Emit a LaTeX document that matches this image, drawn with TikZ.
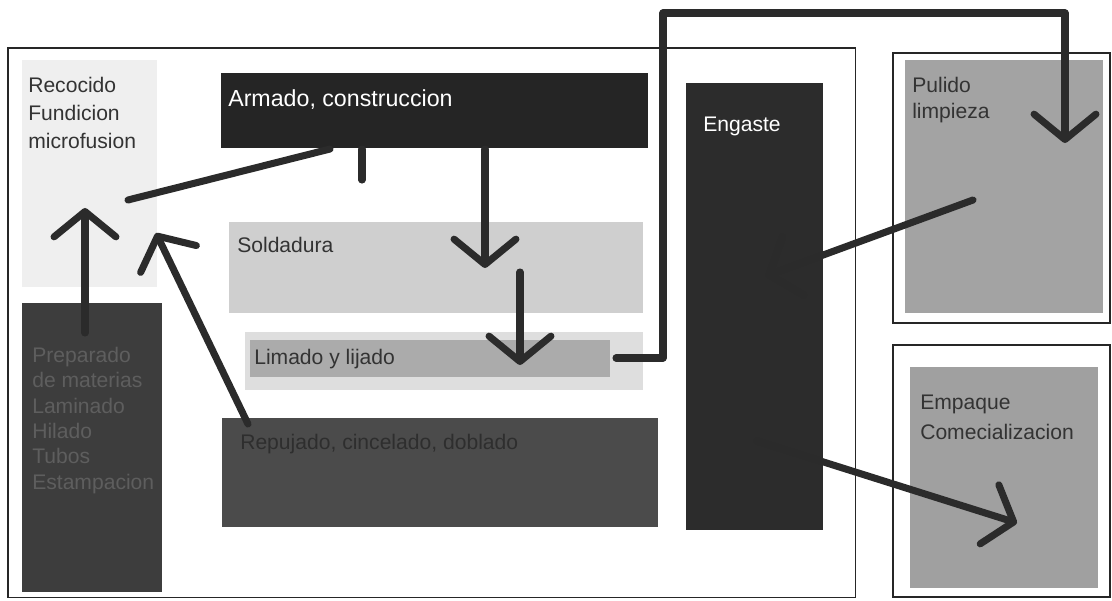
\documentclass[tikz,border=0pt]{standalone}
\usepackage{fontspec}
\setmainfont{Liberation Sans}
\usetikzlibrary{arrows.meta}

\definecolor{recfill}{HTML}{EFEFEF}
\definecolor{prepfill}{HTML}{3D3D3D}
\definecolor{prepink}{HTML}{5E5E5E}
\definecolor{armfill}{HTML}{252525}
\definecolor{soldfill}{HTML}{CFCFCF}
\definecolor{limback}{HTML}{DEDEDE}
\definecolor{limfill}{HTML}{ABABAB}
\definecolor{repfill}{HTML}{4B4B4B}
\definecolor{repink}{HTML}{2E2E2E}
\definecolor{engfill}{HTML}{2C2C2C}
\definecolor{pulfill}{HTML}{A3A3A3}
\definecolor{empfill}{HTML}{A0A0A0}
\definecolor{inkdark}{HTML}{333333}
\definecolor{flowink}{HTML}{2B2B2B}

\begin{document}
\begin{tikzpicture}[x=0.025cm,y=-0.025cm,
  frame/.style={draw=black!85,line width=0.9pt,inner sep=0pt,outer sep=0pt,anchor=north west},
  box/.style={inner sep=0pt,outer sep=0pt,anchor=north west},
  txt/.style={anchor=north west,inner sep=0pt,align=left,font=\fontsize{15pt}{19pt}\selectfont},
  flow/.style={draw=flowink,line width=5pt,line cap=round,line join=round,
    -{Straight Barb[length=18pt,width=44pt,round]}},
  plain/.style={draw=flowink,line width=5pt,line cap=round}]
\useasboundingbox (0,0) rectangle (1112,600);

% the frames
\node[frame,minimum width=21.175cm,minimum height=13.725cm] (main) at (8,48) {};
\node[frame,minimum width=5.425cm,minimum height=6.75cm] (pfr) at (893,53) {};
\node[frame,minimum width=5.425cm,minimum height=6.3cm] (efr) at (893,345) {};

% the process boxes
\node[box,fill=recfill,minimum width=3.375cm,minimum height=5.675cm,
  label={[txt,text=inkdark,font=\fontsize{15pt}{20pt}\selectfont,shift={(6,17)}]north west:{Recocido\\Fundicion\\microfusion}}] (recocido) at (22,60) {};
\node[box,fill=prepfill,minimum width=3.5cm,minimum height=7.225cm,
  label={[txt,text=prepink,font=\fontsize{15pt}{18pt}\selectfont,shift={(10,44)}]north west:{Preparado\\de materias\\Laminado\\Hilado\\Tubos\\Estampacion}}] (prep) at (22,303) {};
\node[box,fill=armfill,minimum width=10.675cm,minimum height=1.875cm,
  label={[txt,text=white,font=\fontsize{16.5pt}{19pt}\selectfont,shift={(7,16)}]north west:{Armado, construccion}}] (armado) at (221,73) {};
\node[box,fill=soldfill,minimum width=10.35cm,minimum height=2.275cm,
  label={[txt,text=inkdark,shift={(8,15)}]north west:{Soldadura}}] (sold) at (229,222) {};
\node[box,fill=limback,minimum width=9.95cm,minimum height=1.45cm] (limout) at (245,332) {};
\node[box,fill=limfill,minimum width=9cm,minimum height=0.925cm,
  label={[txt,text=inkdark,shift={(4,9)}]north west:{Limado y lijado}}] (lim) at (250,340) {};
\node[box,fill=repfill,minimum width=10.9cm,minimum height=2.725cm,
  label={[txt,text=repink,shift={(18,16)}]north west:{Repujado, cincelado, doblado}}] (repu) at (222,418) {};
\node[box,fill=engfill,minimum width=3.425cm,minimum height=11.175cm,
  label={[txt,text=white,shift={(17,34)}]north west:{Engaste}}] (engaste) at (686,83) {};
\node[box,fill=pulfill,minimum width=4.95cm,minimum height=6.325cm,
  label={[txt,text=inkdark,font=\fontsize{15pt}{18.5pt}\selectfont,shift={(7,17)}]north west:{Pulido\\limpieza}}] (pulido) at (905,60) {};
\node[box,fill=empfill,minimum width=4.7cm,minimum height=5.525cm,
  label={[txt,text=inkdark,font=\fontsize{15pt}{21pt}\selectfont,shift={(10,28)}]north west:{Empaque\\Comecializacion}}] (empaque) at (910,367) {};

% the connectors
\coordinate (stub) at ([shift={(141,32)}]armado.south west);
\coordinate (bend) at (663,13);
\draw[plain] ([shift={(109,1)}]armado.south west) -- ([shift={(106,140)}]recocido.north west);
\draw[plain] ([shift={(141,1)}]armado.south west) -- (stub);
\draw[flow] ([shift={(63,30)}]prep.north west) -- ([shift={(63,148)}]recocido.north west);
\draw[flow] ([shift={(26,6)}]repu.north west) -- ([shift={(134,173)}]recocido.north west);
\draw[flow] ([shift={(264,1)}]armado.south west) -- ([shift={(256,46)}]sold.north west);
\draw[flow] ([shift={(291,50)}]sold.north west) -- ([shift={(270,25)}]lim.north west);
\draw[flow] ([shift={(371,26)}]limout.north west) -| (bend) -| ([shift={(160,83)}]pulido.north west);
\draw[flow] ([shift={(68,140)}]pulido.north west) -- ([shift={(80,193)}]engaste.north west);
\draw[flow] ([shift={(71,358)}]engaste.north west) -- ([shift={(107,156)}]empaque.north west);
\end{tikzpicture}
\end{document}
